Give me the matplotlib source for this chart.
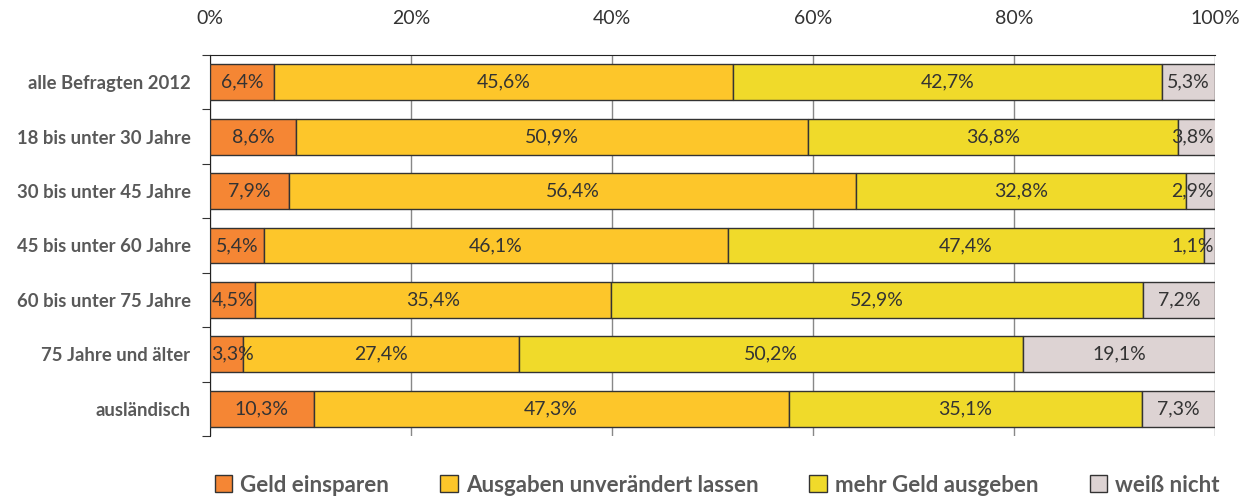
import matplotlib
matplotlib.use("Agg")
import matplotlib.pyplot as plt
import numpy as np
from matplotlib.patches import Patch

categories = ["alle Befragten 2012", "18 bis unter 30 Jahre", "30 bis unter 45 Jahre",
              "45 bis unter 60 Jahre", "60 bis unter 75 Jahre", "75 Jahre und älter",
              "ausländisch"]
series_names = ["Geld einsparen", "Ausgaben unverändert lassen", "mehr Geld ausgeben", "weiß nicht"]
geld_einsparen = [6.4, 8.6, 7.9, 5.4, 4.5, 3.3, 10.3]
unveraendert = [45.6, 50.9, 56.4, 46.1, 35.4, 27.4, 47.3]
mehr_ausgeben = [42.7, 36.8, 32.8, 47.4, 52.9, 50.2, 35.1]
weiss_nicht = [5.3, 3.8, 2.9, 1.1, 7.2, 19.1, 7.3]
xtick_vals = [0, 20, 40, 60, 80, 100]

colors = ["#F58634", "#FDC62A", "#F0DA2A", "#DDD3D3"]
plt.rcParams['font.family'] = ['Lato', 'DejaVu Sans']

fig = plt.figure(figsize=(12.45, 5), dpi=100)
ax = fig.add_axes([210/1245, 1-436/500, 1005/1245, 381/500])

data = [geld_einsparen, unveraendert, mehr_ausgeben, weiss_nicht]
y = np.arange(len(categories))
left = np.zeros(len(categories))
for vals, col, name in zip(data, colors, series_names):
    vals = np.array(vals)
    ax.barh(y, vals, left=left, height=0.66, color=col, edgecolor="#333333",
            linewidth=1.0, label=name, zorder=3)
    for yi, l, v in zip(y, left, vals):
        c = l + v / 2
        txt = f"{v:.1f}%".replace(".", ",")
        hw = 2.2 if v < 10 else 2.7
        c = min(max(c, hw), 100 - hw)
        ax.text(c, yi, txt, ha="center", va="center", fontsize=14,
                color="#333333", zorder=4)
    left += vals

ax.set_xlim(0, 100)
ax.set_ylim(len(categories) - 0.5, -0.5)
ax.xaxis.tick_top()
ax.set_xticks(xtick_vals)
ax.set_xticklabels([f"{v}%" for v in xtick_vals], fontsize=14, color="#333333")
ax.tick_params(axis="x", length=0, pad=20)
ax.grid(axis="x", color="#888888", linewidth=1.0, zorder=0)

ax.set_yticks(np.arange(-0.5, len(categories) + 0.5, 1), minor=False)
ax.set_yticklabels([])
ax.set_yticks(y, minor=True)
ax.set_yticklabels(categories, minor=True, fontsize=13.3, fontweight="bold", color="#595959")
ax.tick_params(axis="y", which="major", length=6, direction="out", color="#333333")
ax.tick_params(axis="y", which="minor", length=0, pad=14)

for s in ["right", "bottom"]:
    ax.spines[s].set_visible(False)
ax.spines["top"].set_color("#222222")
ax.spines["left"].set_color("#222222")

handles = [Patch(facecolor=c, edgecolor="#333333", label=n) for c, n in zip(colors, series_names)]
leg = fig.legend(handles=handles, loc="center", bbox_to_anchor=(0.576, 0.03), ncol=4,
                 frameon=False, fontsize=16, handlelength=0.8, handleheight=0.8,
                 handletextpad=0.35, columnspacing=2.3)
for t in leg.get_texts():
    t.set_fontweight("bold")
    t.set_color("#595959")

fig.savefig("out.png", dpi=100)
